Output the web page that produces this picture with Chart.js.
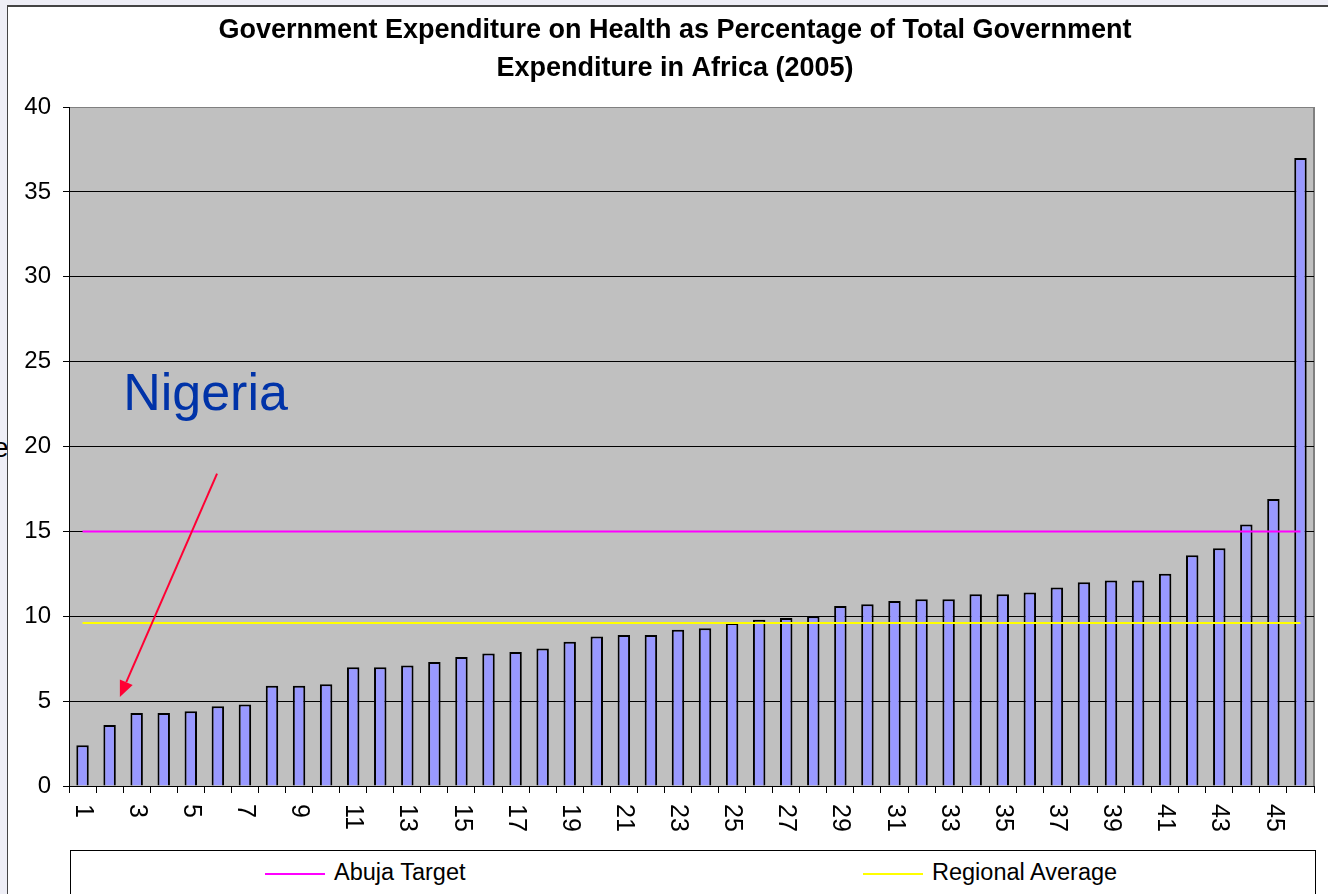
<!DOCTYPE html>
<html>
<head>
<meta charset="utf-8">
<script src="https://cdn.jsdelivr.net/npm/chart.js@4.4.1/dist/chart.umd.min.js"></script>
<style>
  html, body { margin: 0; padding: 0; background: #eeeef6; overflow: hidden; }
  #frame { position: absolute; left: 7px; top: 5px; width: 1340px; height: 900px; background: #fff; border-left: 1px solid #444; border-top: 2px solid #444; }
  #stray { position: absolute; left: -7px; top: 432px; font: 28px "Liberation Sans", Arial, sans-serif; color: #000; }
  #wrap { position: absolute; left: 0; top: 0; width: 1328px; height: 894px; }
  #legend { position: absolute; left: 70px; top: 850px; width: 1244px; height: 60px; border: 1px solid #000; background: #fff;
            font: 23.5px "Liberation Sans", Arial, sans-serif; color: #000; }
  .item { position: absolute; top: 8px; height: 26px; line-height: 26px; white-space: nowrap; }
  .swatch { display: inline-block; width: 60px; height: 2px; vertical-align: middle; margin-right: 9px; }
</style>
</head>
<body>
<div id="stray">e</div>
<div id="frame"></div>
<div id="wrap"><canvas id="myChart"></canvas></div>
<div id="legend">
  <div class="item" style="left:194px"><span class="swatch" style="background:#ff00ff"></span>Abuja Target</div>
  <div class="item" style="left:792px"><span class="swatch" style="background:#ffff00"></span>Regional Average</div>
</div>
<script>
(() => {
  'use strict'

  // data
  const categories = [
    '1', '2', '3', '4', '5', '6', '7', '8', '9', '10',
    '11', '12', '13', '14', '15', '16', '17', '18', '19', '20',
    '21', '22', '23', '24', '25', '26', '27', '28', '29', '30',
    '31', '32', '33', '34', '35', '36', '37', '38', '39', '40',
    '41', '42', '43', '44', '45', '46'
  ];
  const healthShare = [
    2.4, 3.6, 4.3, 4.3, 4.4, 4.7, 4.8, 5.9, 5.9, 6.0,
    7.0, 7.0, 7.1, 7.3, 7.6, 7.8, 7.9, 8.1, 8.5, 8.8,
    8.9, 8.9, 9.2, 9.3, 9.6, 9.8, 9.9, 10.0, 10.6, 10.7,
    10.9, 11.0, 11.0, 11.3, 11.3, 11.4, 11.7, 12.0, 12.1, 12.1,
    12.5, 13.6, 14.0, 15.4, 16.9, 37.0
  ];
  const abujaTarget = 15;
  const regionalAverage = 9.6;
  const yTicks = [0, 5, 10, 15, 20, 25, 30, 35, 40];

  // annotation, in data units (category index, value)
  const nigeriaNote = { text: 'Nigeria', x: 1.5, y: 22.15 };
  const nigeriaArrow = { from: { x: 4.97, y: 18.4 }, to: { x: 1.38, y: 5.25 } };

  const FONT = '"Liberation Sans", Arial, sans-serif';
  Chart.defaults.font.family = FONT;
  Chart.defaults.color = '#000';

  const plotBackground = {
    id: 'plotBackground',
    beforeDraw(chart) {
      const { ctx, chartArea: a } = chart;
      ctx.save();
      ctx.fillStyle = '#c0c0c0';
      ctx.fillRect(a.left, a.top, a.right - a.left, a.bottom - a.top);
      ctx.strokeStyle = '#808080';
      ctx.lineWidth = 2;
      ctx.beginPath();
      ctx.moveTo(a.right, a.top);
      ctx.lineTo(a.right, a.bottom);
      ctx.stroke();
      ctx.restore();
    }
  };

  // Excel style x labels: every other one, turned clockwise
  const xLabels = {
    id: 'xLabels',
    afterDraw(chart) {
      const { ctx, chartArea: a } = chart;
      const xs = chart.scales.x;
      ctx.save();
      ctx.font = '25px ' + FONT;
      ctx.fillStyle = '#000';
      ctx.textAlign = 'left';
      ctx.textBaseline = 'middle';
      categories.forEach((c, i) => {
        if (i % 2) return;
        ctx.save();
        ctx.translate(xs.getPixelForValue(i), a.bottom + 18);
        ctx.rotate(Math.PI / 2);
        ctx.fillText(c, 0, 0);
        ctx.restore();
      });
      ctx.restore();
    }
  };

  const annotation = {
    id: 'annotation',
    afterDraw(chart) {
      const { ctx } = chart;
      const xs = chart.scales.x, ys = chart.scales.y;
      ctx.save();
      ctx.font = '52px ' + FONT;
      ctx.fillStyle = '#0033a8';
      ctx.textBaseline = 'alphabetic';
      ctx.fillText(nigeriaNote.text, xs.getPixelForValue(nigeriaNote.x), ys.getPixelForValue(nigeriaNote.y));

      const x1 = xs.getPixelForValue(nigeriaArrow.from.x), y1 = ys.getPixelForValue(nigeriaArrow.from.y);
      const x2 = xs.getPixelForValue(nigeriaArrow.to.x), y2 = ys.getPixelForValue(nigeriaArrow.to.y);
      const ang = Math.atan2(y2 - y1, x2 - x1);
      const head = 16, half = 7;
      ctx.strokeStyle = '#ff0033';
      ctx.fillStyle = '#ff0033';
      ctx.lineWidth = 2;
      ctx.beginPath();
      ctx.moveTo(x1, y1);
      ctx.lineTo(x2 - head * Math.cos(ang), y2 - head * Math.sin(ang));
      ctx.stroke();
      ctx.beginPath();
      ctx.moveTo(x2, y2);
      ctx.lineTo(x2 - head * Math.cos(ang) + half * Math.sin(ang), y2 - head * Math.sin(ang) - half * Math.cos(ang));
      ctx.lineTo(x2 - head * Math.cos(ang) - half * Math.sin(ang), y2 - head * Math.sin(ang) + half * Math.cos(ang));
      ctx.closePath();
      ctx.fill();
      ctx.restore();
    }
  };

  const ctx = document.getElementById('myChart');
  const first = categories[0], last = categories[categories.length - 1];

  new Chart(ctx, {
    data: {
      labels: categories,
      datasets: [
        {
          type: 'line',
          label: 'Abuja Target',
          data: [{ x: first, y: abujaTarget }, { x: last, y: abujaTarget }],
          borderColor: '#ff00ff',
          borderWidth: 2,
          pointRadius: 0,
          order: 0
        },
        {
          type: 'line',
          label: 'Regional Average',
          data: [{ x: first, y: regionalAverage }, { x: last, y: regionalAverage }],
          borderColor: '#ffff00',
          borderWidth: 2,
          pointRadius: 0,
          order: 0
        },
        {
          type: 'bar',
          label: 'Health expenditure',
          data: healthShare,
          backgroundColor: '#9999ff',
          borderColor: '#000',
          borderWidth: 2,
          barPercentage: 0.46,
          categoryPercentage: 1,
          order: 1
        }
      ]
    },
    options: {
      responsive: true,
      maintainAspectRatio: false,
      animation: false,
      layout: { padding: { left: 22, right: 0, top: 8, bottom: 0 } },
      scales: {
        x: {
          type: 'category',
          offset: true,
          grid: { offset: true, drawOnChartArea: false, tickLength: 7, color: '#000' },
          border: { color: '#000', width: 1 },
          ticks: { display: false },
          afterFit(scale) { scale.height = 108; }
        },
        y: {
          min: 0,
          max: 40,
          afterBuildTicks(scale) { scale.ticks = yTicks.map(v => ({ value: v })); },
          grid: {
            color: c => (c.tick && c.tick.value === 40 ? '#808080' : '#000'),
            tickColor: '#000',
            tickLength: 6,
            lineWidth: 1
          },
          border: { color: '#000', width: 1 },
          ticks: { font: { size: 24 }, padding: 12, color: '#000' },
          afterFit(scale) { scale.width = 47; }
        },
        // empty right margin, so the title centres as in the original
        margin: {
          type: 'linear',
          position: 'right',
          grid: { display: false },
          border: { display: false },
          ticks: { display: false },
          afterFit(scale) { scale.width = 14; }
        }
      },
      plugins: {
        legend: { display: false },
        tooltip: { enabled: false },
        title: {
          display: true,
          text: ['Government Expenditure on Health as Percentage of Total Government', 'Expenditure in Africa (2005)'],
          font: { size: 27, weight: 'bold', lineHeight: 1.4 },
          color: '#000',
          padding: { top: 4, bottom: 19.4 }
        }
      }
    },
    plugins: [plotBackground, xLabels, annotation]
  })
})()
</script>
</body>
</html>
